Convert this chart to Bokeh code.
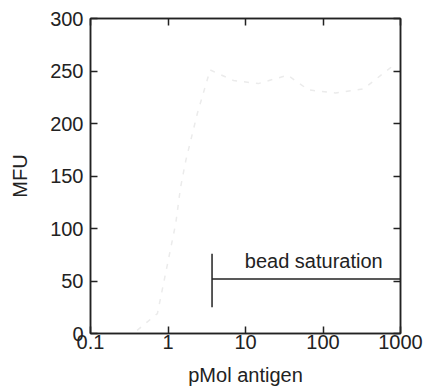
from bokeh.plotting import figure
from bokeh.models import Range1d, FixedTicker, LinearAxis, LogAxis, CustomJSTickFormatter, ColumnDataSource
from bokeh.core.properties import value
from bokeh.embed import file_html
from bokeh.resources import INLINE

# data
curve_x = [0.4, 0.73, 1.26, 1.45, 1.7, 2.4, 3.5, 7, 14.6, 35, 65, 145, 334, 800]
curve_y = [3, 19, 105, 139, 165, 210, 251, 241, 238, 246, 232, 229, 233, 255]
x_ticks = [0.1, 1, 10, 100, 1000]
y_ticks = [0, 50, 100, 150, 200, 250, 300]
sat_start = 3.7
sat_end = 1000
sat_level = 52
sat_low = 25
sat_high = 76
sat_label = "bead saturation"
sat_label_x = 76
sat_label_y = 59

FONT = "Liberation Sans"
INK = "#222222"
FS = "20px"

p = figure(width=427, height=390, x_axis_type="log",
           x_range=Range1d(0.1, 1000), y_range=Range1d(0, 300),
           output_backend="svg", toolbar_location=None,
           min_border_left=90, min_border_right=27, min_border_top=18, min_border_bottom=57)
p.grid.visible = False
p.outline_line_color = INK
p.outline_line_width = 1.5
p.background_fill_color = "white"
p.border_fill_color = "white"

fmt = CustomJSTickFormatter(code="return tick.toString();")
blank = CustomJSTickFormatter(code="return '';")

def style(ax, labels=True):
    ax.major_tick_in = 7
    ax.major_tick_out = 0
    ax.minor_tick_in = 0
    ax.minor_tick_out = 0
    ax.axis_line_color = INK
    ax.axis_line_width = 1.5
    ax.major_tick_line_color = INK
    ax.major_tick_line_width = 1.5
    ax.major_label_text_font = FONT
    ax.major_label_text_font_size = FS
    ax.major_label_text_color = INK
    ax.axis_label_text_font = FONT
    ax.axis_label_text_font_size = FS
    ax.axis_label_text_font_style = "normal"
    ax.axis_label_text_color = INK
    if not labels:
        ax.major_label_text_font_size = "0px"
        ax.formatter = blank

xa = p.xaxis[0]
xa.ticker = FixedTicker(ticks=x_ticks, minor_ticks=[])
xa.formatter = fmt
xa.axis_label = "pMol antigen"
style(xa)
xa.major_label_standoff = 1
xa.axis_label_standoff = 12

ya = p.yaxis[0]
ya.ticker = FixedTicker(ticks=y_ticks, minor_ticks=[])
ya.axis_label = "MFU"
style(ya)
ya.major_label_standoff = 7
ya.axis_label_standoff = 16

top = LogAxis(ticker=FixedTicker(ticks=x_ticks, minor_ticks=[]))
style(top, labels=False)
p.add_layout(top, "above")
right = LinearAxis(ticker=FixedTicker(ticks=y_ticks, minor_ticks=[]))
style(right, labels=False)
p.add_layout(right, "right")

src = ColumnDataSource(dict(x=curve_x, y=curve_y))
p.line("x", "y", source=src, line_color="#ebebeb", line_width=1.5, line_dash="5 7")

p.segment(x0=[sat_start], y0=[sat_level], x1=[sat_end], y1=[sat_level], line_color=INK, line_width=1.5)
p.segment(x0=[sat_start], y0=[sat_low], x1=[sat_start], y1=[sat_high], line_color=INK, line_width=1.5)
p.text(x=[sat_label_x], y=[sat_label_y], text=[sat_label], text_font=value(FONT),
       text_font_size=FS, text_color=INK, text_align="center", text_baseline="bottom")

open("out.html", "w").write(file_html(p, INLINE))
